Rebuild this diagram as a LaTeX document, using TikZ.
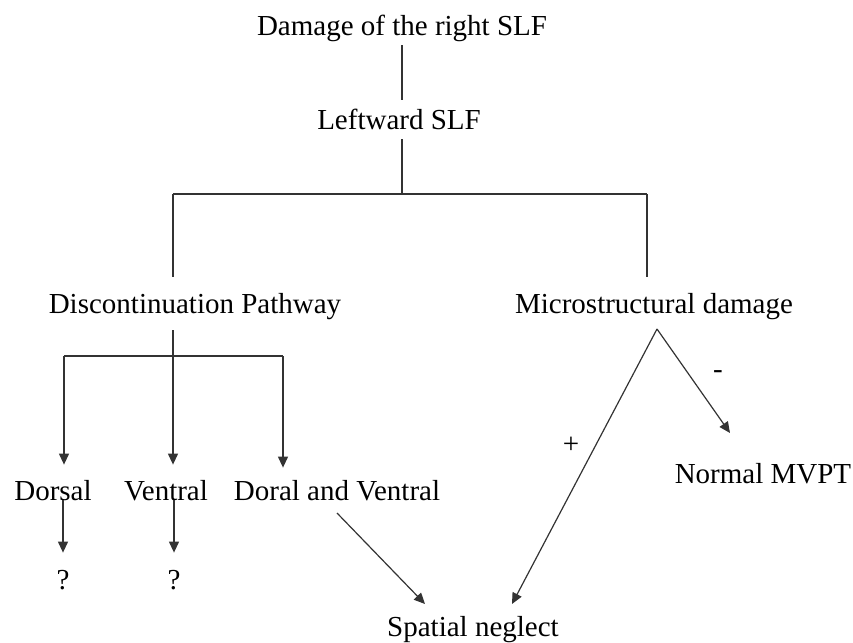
\documentclass[tikz,border=0pt]{standalone}
\usepackage{fontspec}
\setmainfont{Liberation Serif}
\usetikzlibrary{arrows.meta}

\begin{document}
\begin{tikzpicture}
		[x=0.5pt,y=-0.5pt,
		 t/.style={anchor=base,inner sep=0pt,text height=14.5pt,text depth=5pt,font=\fontsize{14.5}{17}\selectfont},
		 s/.style={inner sep=0pt,font=\fontsize{14.5}{17}\selectfont},
		 l/.style={line width=0.6pt,draw=black!80},
		 a/.style={l,-{Triangle[length=5.5pt,width=5pt]}}]

		\useasboundingbox (0,0) rectangle (853,643);

		% top of the tree
		\node[t] (t0) at (402,35) {Damage of the right SLF};
		\node[t] (t1) at (399,129) {Leftward SLF};
		\draw[l] (t0.south) -- (t0.south |- t1.north);

		\coordinate (j0) at (402,194);
		\coordinate (jl) at (173,194);
		\coordinate (jr) at (647,194);
		\draw[l] (t1.south -| j0) -- (j0);
		\draw[l] (jl) -- (jr);

		\node[t] (t2) at (195,313) {Discontinuation Pathway};
		\node[t] (t3) at (654,313) {Microstructural damage};
		\draw[l,shorten >=3.5pt] (jl) -- (jl |- t2.north);
		\draw[l,shorten >=3.5pt] (jr) -- (jr |- t3.north);

		% left branch
		\node[t] (t4) at (53,500) {Dorsal};
		\node[t] (t5) at (166,500) {Ventral};
		\node[t] (t6) at (337,500) {Doral and Ventral};

		\coordinate (k0) at (173,356);
		\coordinate (kl) at (64,356);
		\coordinate (kr) at (283,356);
		\draw[l] (kl) -- (kr);
		\draw[a,shorten <=3.5pt,shorten >=3pt] (t2.south -| k0) -- (k0 |- t5.north);
		\draw[a,shorten >=3pt] (kl) -- (kl |- t4.north);
		\draw[a,shorten >=1.5pt] (kr) -- (kr |- t6.north);

		\node[t] (t7) at (63,589) {?};
		\node[t] (t8) at (174,589) {?};
		\draw[a,shorten >=3.5pt] (t7.north |- t4.base) -- (t7.north);
		\draw[a,shorten >=3.5pt] (t8.north |- t5.base) -- (t8.north);

		% right branch
		\node[t] (t9) at (473,636) {Spatial neglect};
		\node[t] (t10) at (763,483) {Normal MVPT};

		\coordinate (m0) at (657,329);
		\coordinate (m1) at (730,433);
		\coordinate (s0) at (337,513);
		\coordinate (s1) at (425,604);
		\coordinate (s2) at (512,604);
		\draw[a] (s0) -- (s1);
		\draw[a] (m0) -- (s2);
		\draw[a] (m0) -- (m1);

		\node[s] (t11) at (571,445) {+};
		\node[s] (t12) at (718,375) {-};

	\end{tikzpicture}
\end{document}
